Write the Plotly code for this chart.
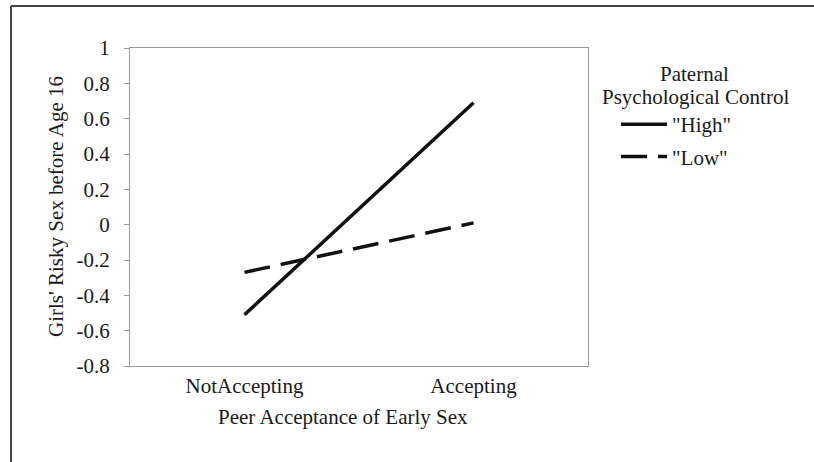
import plotly.graph_objects as go

# ---- data ----
categories = ["NotAccepting", "Accepting"]
high_values = [-0.51, 0.69]
low_values = [-0.27, 0.01]
series_names = ['"High"', '"Low"']
y_tickvals = [1, 0.8, 0.6, 0.4, 0.2, 0, -0.2, -0.4, -0.6, -0.8]
y_ticktext = ["1", "0.8", "0.6", "0.4", "0.2", "0", "-0.2", "-0.4", "-0.6", "-0.8"]
x_title = "Peer Acceptance of Early Sex"
y_title = "Girls' Risky Sex before Age 16"
legend_title_lines = ["Paternal", "Psychological Control"]

W, H = 814, 462
ML, MT, MR, MB = 130, 48, 226, 96
PW, PH = W - ML - MR, H - MT - MB
FONT = "Liberation Serif, Times New Roman, serif"
FS = 21


def px_x(x):
    return (x - ML) / PW


def px_y(y):
    return (H - MB - y) / PH


fig = go.Figure()
fig.add_trace(go.Scatter(x=categories, y=high_values, mode="lines", name=series_names[0],
                         line=dict(color="#111111", width=3.5), legendgroup="a"))
fig.add_trace(go.Scatter(x=categories, y=low_values, mode="lines", name=series_names[1],
                         line=dict(color="#111111", width=3.5, dash="26px,11px"), legendgroup="b"))

fig.update_layout(
    width=W, height=H,
    margin=dict(l=ML, r=MR, t=MT, b=MB, pad=0),
    paper_bgcolor="white", plot_bgcolor="white",
    font=dict(family=FONT, size=FS, color="#1a1a1a"),
    showlegend=True,
    legend=dict(x=px_x(616), y=px_y(104), xanchor="left", yanchor="top",
                itemwidth=46, tracegroupgap=2, bgcolor="rgba(0,0,0,0)",
                font=dict(family=FONT, size=FS, color="#1a1a1a")),
    xaxis=dict(type="category", range=[-0.5, 1.5], showgrid=False, zeroline=False,
               showline=True, linecolor="#9a9a9a", linewidth=1, mirror=True,
               ticks="", ticklabelstandoff=1),
    yaxis=dict(range=[-0.8, 1], tickvals=y_tickvals, ticktext=y_ticktext,
               showgrid=False, zeroline=False, showline=True, linecolor="#9a9a9a",
               linewidth=1, mirror=True, ticks="outside", ticklen=5, tickcolor="#9a9a9a",
               ticklabelstandoff=10),
)

annotations = [
    dict(text=y_title, x=px_x(56), y=0.5, xref="paper", yref="paper", textangle=-90,
         showarrow=False, xanchor="center", yanchor="middle", font=dict(size=FS)),
    dict(text=x_title, x=px_x(343), y=px_y(417), xref="paper", yref="paper",
         showarrow=False, xanchor="center", yanchor="middle", font=dict(size=FS)),
    dict(text=legend_title_lines[0], x=px_x(694), y=px_y(74), xref="paper", yref="paper",
         showarrow=False, xanchor="center", yanchor="middle", font=dict(size=FS)),
    dict(text=legend_title_lines[1], x=px_x(695), y=px_y(97), xref="paper", yref="paper",
         showarrow=False, xanchor="center", yanchor="middle", font=dict(size=FS)),
]
fig.update_layout(annotations=annotations)

# outer chart border (top and left only)
fig.add_shape(type="line", xref="paper", yref="paper", x0=px_x(11), x1=px_x(W), y0=px_y(6), y1=px_y(6),
              line=dict(color="#444444", width=2))
fig.add_shape(type="line", xref="paper", yref="paper", x0=px_x(11), x1=px_x(11), y0=px_y(6), y1=px_y(H),
              line=dict(color="#444444", width=2))

fig.write_html("out.html", config={"displayModeBar": False},
               post_script="document.body.style.margin='0';document.body.style.padding='0';")
